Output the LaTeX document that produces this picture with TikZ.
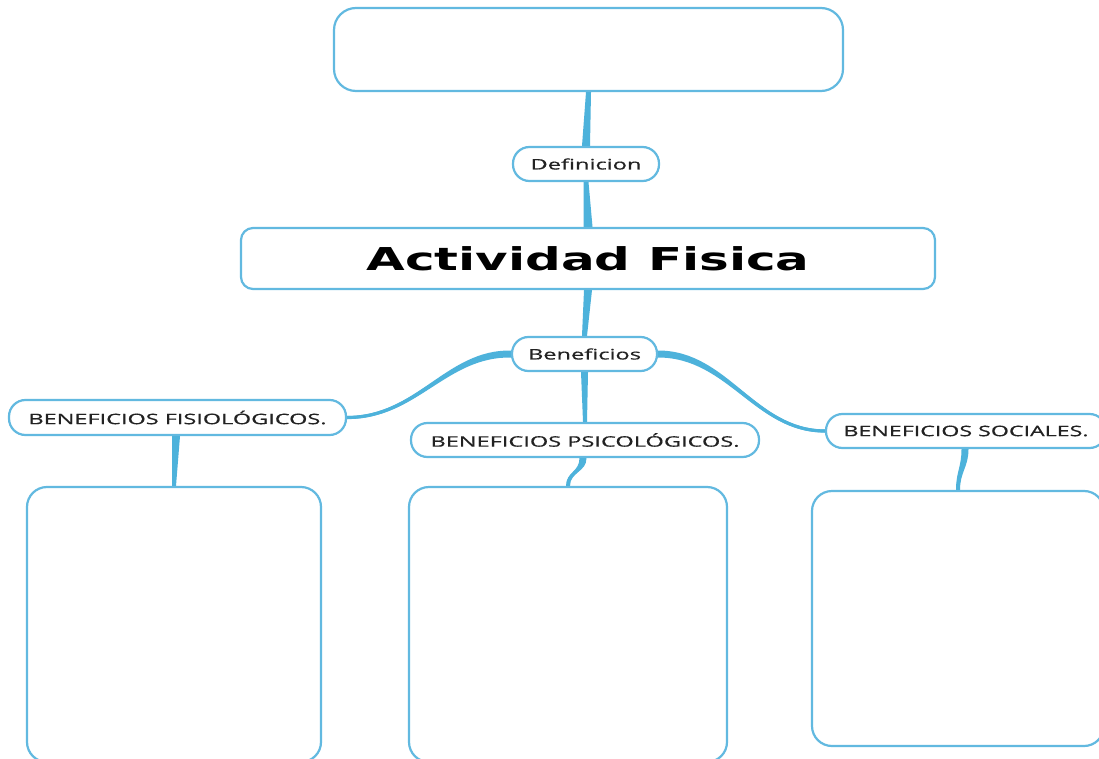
\documentclass[tikz,border=0pt]{standalone}
\usepackage{fontspec}
\setmainfont{Open Sans}
\newfontfamily\lblfont[FakeBold=0.5]{Open Sans}
\newfontfamily\ttlfont{DejaVu Sans}
\usetikzlibrary{calc}
\pgfdeclarelayer{bg}
\pgfsetlayers{bg,main}
\definecolor{edgeblue}{HTML}{62B9E0}
\definecolor{connblue}{HTML}{4DB2DB}
\definecolor{txtgray}{HTML}{222222}
\newcommand\fitw[2]{\resizebox{#1pt}{\height}{#2}}
% straight tapered connector (vertical)
\newcommand\Vtaper[4]{\fill[connblue] ($(#1)+(-#3/2,0)$) -- ($(#2)+(-#4/2,0)$) -- ($(#2)+(#4/2,0)$) -- ($(#1)+(#3/2,0)$) -- cycle;}
% curved tapered connector, horizontal offsets
\newcommand\Ctaper[6]{\fill[connblue] ($(#1)+(-#5/2,0)$) .. controls ($(#2)+(-#5/2,0)$) and ($(#3)+(-#6/2,0)$) .. ($(#4)+(-#6/2,0)$) -- ($(#4)+(#6/2,0)$) .. controls ($(#3)+(#6/2,0)$) and ($(#2)+(#5/2,0)$) .. ($(#1)+(#5/2,0)$) -- cycle;
\draw[connblue, line width=3pt] (#1) .. controls (#2) and (#3) .. (#4);}
% curved tapered connector, vertical offsets
\newcommand\Htaper[6]{\fill[connblue] ($(#1)+(0,-#5/2)$) .. controls ($(#2)+(0,-#5/2)$) and ($(#3)+(0,-#6/2)$) .. ($(#4)+(0,-#6/2)$) -- ($(#4)+(0,#6/2)$) .. controls ($(#3)+(0,#6/2)$) and ($(#2)+(0,#5/2)$) .. ($(#1)+(0,#5/2)$) -- cycle;
\draw[connblue, line width=3.2pt] (#1) .. controls (#2) and (#3) .. (#4);}
\begin{document}
\begin{tikzpicture}[x=1pt,y=-1pt,
  bigbox/.style={draw=edgeblue, line width=2.2pt, fill=white, inner sep=0pt},
  pill/.style={draw=edgeblue, line width=2.2pt, fill=white, inner sep=0pt, rounded corners=16.5pt, text=txtgray, font=\lblfont\fontsize{14.5}{16}\selectfont}]
\useasboundingbox (0,0) rectangle (1099,759);
\clip (0,0) rectangle (1099,759);

% nodes
\node[bigbox, rounded corners=22pt, minimum width=509, minimum height=83] (top) at (588.5,49.5) {};
\node[pill, minimum width=146, minimum height=34] (def) at (586,164) {\fitw{111}{Definicion}};
\node[bigbox, rounded corners=12pt, minimum width=694, minimum height=61] (act) at (588,258.5)
  {\fitw{443}{\ttlfont\bfseries\fontsize{31.5}{36}\selectfont Actividad Fisica}};
\node[pill, minimum width=145, minimum height=34] (ben) at (584.5,354) {\fitw{113}{Beneficios}};
\node[pill, minimum width=337, minimum height=35] (fis) at (177.5,417.5) {\fitw{298}{BENEFICIOS FISIOLÓGICOS.}};
\node[pill, minimum width=348, minimum height=34] (psi) at (585,440) {\fitw{309}{BENEFICIOS PSICOLÓGICOS.}};
\node[pill, minimum width=280, minimum height=34] (soc) at (966,431) {\fitw{245}{BENEFICIOS SOCIALES.}};
\node[bigbox, rounded corners=20pt, minimum width=294, minimum height=275] (b1) at (174,624.5) {};
\node[bigbox, rounded corners=20pt, minimum width=318, minimum height=275] (b2) at (568,624.5) {};
\node[bigbox, rounded corners=20pt, minimum width=292, minimum height=255] (b3) at (958,618.5) {};

% connectors
\begin{pgfonlayer}{bg}
\fill[white] (0,0) rectangle (1099,759);
\Vtaper{top.south}{def.north}{5}{8}
\Vtaper{def.south}{act.north}{5}{9}
\Vtaper{act.south}{ben.north}{8}{5}
\Vtaper{ben.south}{psi.north}{7}{4}
\coordinate (l1) at ($(ben.west)+(-65,-1)$);
\coordinate (l2) at ($(fis.east)+(70,0)$);
\Htaper{ben.west}{l1}{l2}{fis.east}{7}{3}
\coordinate (r1) at ($(ben.east)+(70,0)$);
\coordinate (r2) at ($(soc.west)+(-70,0)$);
\Htaper{ben.east}{r1}{r2}{soc.west}{7}{3}
\coordinate (fa) at ($(fis.south)+(-1.5,0)$);
\Vtaper{fa}{b1.north}{8}{4}
\coordinate (pa0) at ($(psi.south)+(-2,0)$);
\coordinate (pa1) at ($(pa0)+(0,14)$);
\coordinate (pa2) at ($(b2.north)+(0,-14)$);
\Ctaper{pa0}{pa1}{pa2}{b2.north}{7}{4}
\coordinate (sa) at ($(soc.south)+(-1,0)$);
\coordinate (sa1) at ($(sa)+(0,18)$);
\coordinate (sa2) at ($(b3.north)+(0,-18)$);
\Ctaper{sa}{sa1}{sa2}{b3.north}{7}{4}
\end{pgfonlayer}
\end{tikzpicture}
\end{document}
